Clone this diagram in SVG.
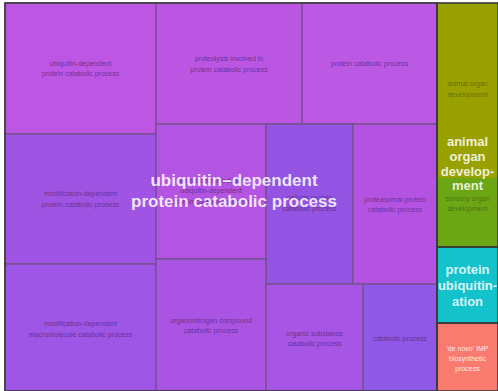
<svg xmlns="http://www.w3.org/2000/svg" width="498" height="391" viewBox="0 0 498 391">
  <style>
    .cell { stroke: #74508c; stroke-width: 1.3; }
    .grp { fill: none; stroke: #3a3a3a; stroke-width: 1.6; }
    .lbl { font-family: "Liberation Sans", Arial, sans-serif; font-size: 7px; text-anchor: middle; fill: #5a2a86; fill-opacity: 0.85; }
    .lbl-o { fill: #5e6400; }
    .lbl-g { fill: #3c6e0c; }
    .lbl-w { fill: #fff3f0; fill-opacity: 0.95; }
    .big { font-family: "Liberation Sans", Arial, sans-serif; font-weight: bold; text-anchor: middle; fill: #ffffff; fill-opacity: 0.85; }
  </style>
  <rect x="0" y="0" width="498" height="391" fill="#ffffff"/>

  <!-- leaf tiles -->
  <g id="ubiquitin-dependent-protein-catabolic-process">
    <rect class="cell" x="5" y="3" width="151" height="131" fill="#bd56e3"/>
    <text class="lbl" x="80.5" y="65.5">ubiquitin-dependent</text>
    <text class="lbl" x="80.5" y="76">protein catabolic process</text>
  </g>
  <g id="proteolysis-involved-in-protein-catabolic-process">
    <rect class="cell" x="156" y="3" width="146" height="121" fill="#bb56e3"/>
    <text class="lbl" x="229" y="60.5">proteolysis involved in</text>
    <text class="lbl" x="229" y="72">protein catabolic process</text>
  </g>
  <g id="protein-catabolic-process">
    <rect class="cell" x="302" y="3" width="135" height="121" fill="#bb58e4"/>
    <text class="lbl" x="369.5" y="66">protein catabolic process</text>
  </g>
  <g id="modification-dependent-protein-catabolic-process">
    <rect class="cell" x="5" y="134" width="151" height="130" fill="#9f54e4"/>
    <text class="lbl" x="80.5" y="195.5">modification-dependent</text>
    <text class="lbl" x="80.5" y="207">protein catabolic process</text>
  </g>
  <g id="modification-dependent-macromolecule-catabolic-process">
    <rect class="cell" x="5" y="264" width="151" height="127" fill="#9d56e6"/>
    <text class="lbl" x="80.5" y="325.5">modification-dependent</text>
    <text class="lbl" x="80.5" y="336.5">macromolecule catabolic process</text>
  </g>
  <g id="proteasome-mediated-ubiquitin-dependent-protein-catabolic-process">
    <rect class="cell" x="156" y="124" width="110" height="135" fill="#b354e2"/>
    <text class="lbl" x="211" y="182.5">proteasome-mediated</text>
    <text class="lbl" x="211" y="193">ubiquitin-dependent</text>
    <text class="lbl" x="211" y="203.5">protein catabolic process</text>
  </g>
  <g id="cellular-protein-catabolic-process">
    <rect class="cell" x="266" y="124" width="87" height="160" fill="#9353e3"/>
    <text class="lbl" x="309.5" y="200">cellular protein</text>
    <text class="lbl" x="309.5" y="211">catabolic process</text>
  </g>
  <g id="proteasomal-protein-catabolic-process">
    <rect class="cell" x="353" y="124" width="84" height="160" fill="#b453e2"/>
    <text class="lbl" x="395" y="201.5">proteasomal protein</text>
    <text class="lbl" x="395" y="212">catabolic process</text>
  </g>
  <g id="organonitrogen-compound-catabolic-process">
    <rect class="cell" x="156" y="259" width="110" height="132" fill="#a954e3"/>
    <text class="lbl" x="211" y="322.5">organonitrogen compound</text>
    <text class="lbl" x="211" y="333">catabolic process</text>
  </g>
  <g id="organic-substance-catabolic-process">
    <rect class="cell" x="266" y="284" width="97" height="107" fill="#a655e4"/>
    <text class="lbl" x="314.5" y="335.5">organic substance</text>
    <text class="lbl" x="314.5" y="346">catabolic process</text>
  </g>
  <g id="catabolic-process">
    <rect class="cell" x="363" y="284" width="74" height="107" fill="#9058e6"/>
    <text class="lbl" x="400" y="340.5">catabolic process</text>
  </g>
  <g id="animal-organ-development">
    <rect x="437" y="3" width="61" height="175" fill="#99a100"/>
    <text class="lbl lbl-o" x="467.5" y="86">animal organ</text>
    <text class="lbl lbl-o" x="467.5" y="96.5">development</text>
  </g>
  <g id="sensory-organ-development">
    <rect x="437" y="178" width="61" height="69" fill="#6da615"/>
    <text class="lbl lbl-g" x="467.5" y="200.5">sensory organ</text>
    <text class="lbl lbl-g" x="467.5" y="211">development</text>
  </g>
  <g id="protein-ubiquitination">
    <rect x="437" y="247" width="61" height="76" fill="#14c2cc"/>
  </g>
  <g id="de-novo-IMP-biosynthetic-process">
    <rect x="437" y="323" width="61" height="68" fill="#f97b70"/>
    <text class="lbl lbl-w" x="467.5" y="350.5">'de novo' IMP</text>
    <text class="lbl lbl-w" x="467.5" y="360.5">biosynthetic</text>
    <text class="lbl lbl-w" x="467.5" y="370.5">process</text>
  </g>

  <!-- group outlines -->
  <g id="group-borders">
    <rect class="grp" x="5" y="3" width="432" height="388"/>
    <rect class="grp" x="437" y="3" width="61" height="244"/>
    <rect class="grp" x="437" y="247" width="61" height="76"/>
    <rect class="grp" x="437" y="323" width="61" height="68"/>
  </g>

  <!-- group titles -->
  <g id="group-titles">
    <text class="big" font-size="17" x="234" y="186">ubiquitin–dependent</text>
    <text class="big" font-size="17" x="234" y="207">protein catabolic process</text>
    <text class="big" font-size="13" x="467.5" y="146">animal</text>
    <text class="big" font-size="13" x="467.5" y="161">organ</text>
    <text class="big" font-size="13" x="467.5" y="175.5">develop-</text>
    <text class="big" font-size="13" x="467.5" y="190">ment</text>
    <text class="big" font-size="13" x="467.5" y="274">protein</text>
    <text class="big" font-size="13" x="467.5" y="290">ubiquitin-</text>
    <text class="big" font-size="13" x="467.5" y="306">ation</text>
  </g>
</svg>
